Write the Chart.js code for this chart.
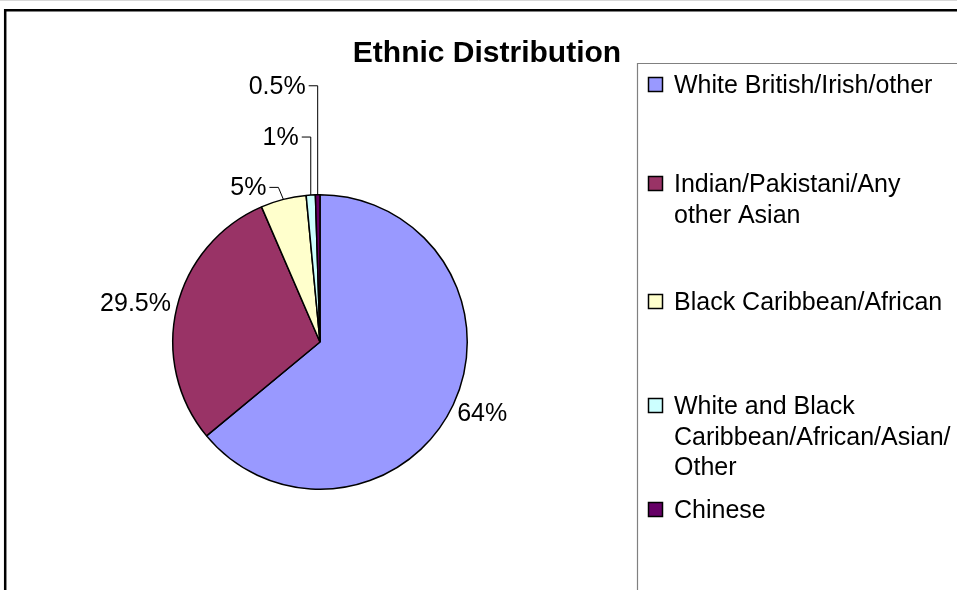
<!DOCTYPE html>
<html>
<head>
<meta charset="utf-8">
<script src="https://cdn.jsdelivr.net/npm/chart.js@4/dist/chart.umd.min.js"></script>
<style>
  body { margin: 0; background: #fff; }
  #wrap { width: 957px; height: 590px; }
</style>
</head>
<body>
<div id="wrap"><canvas id="pieChart" width="957" height="590"></canvas></div>
<script>
const chartTitle = 'Ethnic Distribution';
const categories = [
  'White British/Irish/other',
  'Indian/Pakistani/Any other Asian',
  'Black Caribbean/African',
  'White and Black Caribbean/African/Asian/Other',
  'Chinese',
];
const shares = [64, 29.5, 5, 1, 0.5];
const sliceColors = ['#9999FF', '#993366', '#FFFFCC', '#CCFFFF', '#660066'];

// leader-line elbows for the thin slices (offset from the arc edge), null = plain outside label
const leaderElbows = [null, null, { dx: -5, dy: -12 }, { dx: 0, dy: -58 }, { dx: 0, dy: -109 }];
// baseline of the first text line of each legend entry
const legendRows = [93, 192, 310, 414, 518];

const FONT = '"Liberation Sans", Arial, sans-serif';
const LABEL_FONT = '25px ' + FONT;

function wrapText(ctx, text, maxWidth) {
  // break on spaces and after slashes
  const tokens = text.match(/[^ \/]+\/?\s*|\s+/g) || [text];
  const lines = [];
  let line = '';
  tokens.forEach((tok) => {
    const test = line + tok;
    if (line && ctx.measureText(test.trimEnd()).width > maxWidth) {
      lines.push(line.trimEnd());
      line = tok;
    } else {
      line = test;
    }
  });
  if (line) lines.push(line.trimEnd());
  return lines;
}

const framePlugin = {
  id: 'frame',
  beforeDraw(chart) {
    const ctx = chart.ctx;
    ctx.save();
    ctx.strokeStyle = '#d8d8d8';
    ctx.lineWidth = 1;
    ctx.beginPath();
    ctx.moveTo(0, 0.5);
    ctx.lineTo(chart.width, 0.5);
    ctx.stroke();
    ctx.strokeStyle = '#000';
    ctx.lineWidth = 2.5;
    ctx.beginPath();
    ctx.moveTo(5.2, chart.height);
    ctx.lineTo(5.2, 10.2);
    ctx.lineTo(chart.width, 10.2);
    ctx.stroke();

    // legend box
    ctx.strokeStyle = '#808080';
    ctx.lineWidth = 1.2;
    ctx.beginPath();
    ctx.moveTo(637.5, chart.height);
    ctx.lineTo(637.5, 63.5);
    ctx.lineTo(chart.width, 63.5);
    ctx.stroke();

    ctx.fillStyle = '#000';
    ctx.font = 'bold 30px ' + FONT;
    ctx.textAlign = 'center';
    ctx.textBaseline = 'alphabetic';
    ctx.fillText(chartTitle, 487, 62);
    ctx.restore();
  },
  afterDraw(chart) {
    const ctx = chart.ctx;
    const meta = chart.getDatasetMeta(0);
    const total = shares.reduce((a, b) => a + b, 0);
    ctx.save();
    ctx.font = LABEL_FONT;
    ctx.fillStyle = '#000';
    ctx.strokeStyle = '#000';
    ctx.lineWidth = 1;

    meta.data.forEach((arc, i) => {
      const p = arc.getProps(['x', 'y', 'startAngle', 'endAngle', 'outerRadius'], true);
      const mid = (p.startAngle + p.endAngle) / 2;
      const dx = Math.cos(mid);
      const dy = Math.sin(mid);
      const text = Math.round(shares[i] / total * 1000) / 10 + '%';
      const w = ctx.measureText(text).width;
      const h = 24;
      const elbow = leaderElbows[i];
      if (elbow) {
        const ex = p.x + dx * p.outerRadius;
        const ey = p.y + dy * p.outerRadius;
        const kx = ex + elbow.dx;
        const ky = ey + elbow.dy;
        ctx.beginPath();
        ctx.moveTo(ex, ey);
        ctx.lineTo(kx, ky);
        ctx.lineTo(kx - 9, ky);
        ctx.stroke();
        ctx.textAlign = 'right';
        ctx.textBaseline = 'middle';
        ctx.fillText(text, kx - 12, ky + 1);
      } else {
        const r = p.outerRadius + 7;
        const cx = p.x + dx * r + dx * w / 2;
        const cy = p.y + dy * r + dy * h / 2;
        ctx.textAlign = 'center';
        ctx.textBaseline = 'middle';
        ctx.fillText(text, cx, cy + 1);
      }
    });

    // legend entries
    ctx.textAlign = 'left';
    ctx.textBaseline = 'alphabetic';
    categories.forEach((name, i) => {
      const lines = wrapText(ctx, name, 280);
      const base = legendRows[i];
      ctx.fillStyle = sliceColors[i];
      ctx.fillRect(648.5, base - 15.5, 14, 14);
      ctx.lineWidth = 1.5;
      ctx.strokeStyle = '#000';
      ctx.strokeRect(648.5, base - 15.5, 14, 14);
      ctx.fillStyle = '#000';
      lines.forEach((ln, j) => ctx.fillText(ln, 674, base + j * 30.5));
    });
    ctx.restore();
  },
};

new Chart(document.getElementById('pieChart'), {
  type: 'pie',
  data: {
    labels: categories,
    datasets: [
      {
        data: shares,
        backgroundColor: sliceColors,
        borderColor: '#000',
        borderWidth: 1.5,
      },
    ],
  },
  options: {
    responsive: false,
    animation: false,
    layout: {
      padding: { left: 172, right: 489, top: 194, bottom: 100 },
    },
    plugins: {
      legend: { display: false },
      title: { display: false },
      tooltip: { enabled: false },
    },
  },
  plugins: [framePlugin],
});
</script>
</body>
</html>
